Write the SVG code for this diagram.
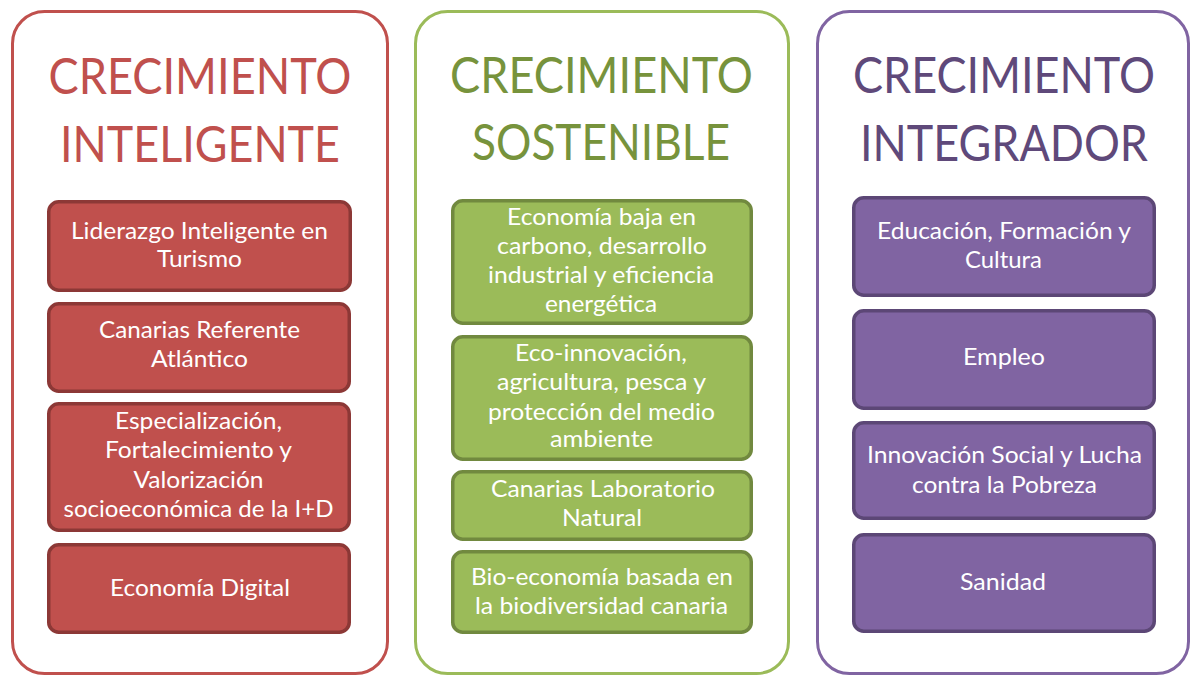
<svg xmlns="http://www.w3.org/2000/svg" width="1191" height="675" viewBox="0 0 1191 675">
<style>
.panel{fill:#FFFFFF;stroke-width:3}
.title{font-family:Lato,"Open Sans","Liberation Sans",sans-serif;font-size:50px;text-anchor:middle}
.box{stroke-width:3.5}
.lbl{font-family:Lato,"Open Sans","Liberation Sans",sans-serif;font-size:23px;fill:#FFFFFF;text-anchor:middle}
.red .panel{stroke:#C0504D}.red .title{fill:#C0504D}.red .box{fill:#C0504D;stroke:#8C3836}
.green .panel{stroke:#9BBB59}.green .title{fill:#77933C}.green .box{fill:#9BBB59;stroke:#71893F}
.purple .panel{stroke:#8064A2}.purple .title{fill:#5F497A}.purple .box{fill:#8064A2;stroke:#5C4776}
</style>
<rect width="1191" height="675" fill="#FFFFFF"/>
<g id="connectors"/>
<g id="panel-inteligente" class="red">
<rect class="panel" x="12.5" y="11.5" width="375" height="662" rx="32"/>
<text class="title" x="200" y="94" textLength="303" lengthAdjust="spacingAndGlyphs">CRECIMIENTO</text>
<text class="title" x="200" y="162" textLength="280" lengthAdjust="spacingAndGlyphs">INTELIGENTE</text>
<g id="node-liderazgo"><rect class="box" x="48.75" y="201.75" width="301.5" height="88.5" rx="10"/>
<text class="lbl" x="199.5" y="239" textLength="257" lengthAdjust="spacingAndGlyphs">Liderazgo Inteligente en</text>
<text class="lbl" x="199.5" y="267" textLength="85" lengthAdjust="spacingAndGlyphs">Turismo</text></g>
<g id="node-canarias-referente"><rect class="box" x="48.75" y="303.75" width="300.5" height="87.5" rx="10"/>
<text class="lbl" x="199.5" y="338" textLength="201" lengthAdjust="spacingAndGlyphs">Canarias Referente</text>
<text class="lbl" x="199.5" y="367" textLength="97" lengthAdjust="spacingAndGlyphs">Atlántico</text></g>
<g id="node-especializacion"><rect class="box" x="48.75" y="403.75" width="300.5" height="126.5" rx="10"/>
<text class="lbl" x="198.5" y="429" textLength="167" lengthAdjust="spacingAndGlyphs">Especialización,</text>
<text class="lbl" x="198.5" y="458" textLength="187" lengthAdjust="spacingAndGlyphs">Fortalecimiento y</text>
<text class="lbl" x="198.5" y="488" textLength="130" lengthAdjust="spacingAndGlyphs">Valorización</text>
<text class="lbl" x="198.5" y="517" textLength="270" lengthAdjust="spacingAndGlyphs">socioeconómica de la I+D</text></g>
<g id="node-economia-digital"><rect class="box" x="48.75" y="544.75" width="300.5" height="87.5" rx="10"/>
<text class="lbl" x="200" y="596" textLength="180" lengthAdjust="spacingAndGlyphs">Economía Digital</text></g>
</g>
<g id="panel-sostenible" class="green">
<rect class="panel" x="415.5" y="11.5" width="373" height="662" rx="32"/>
<text class="title" x="601.5" y="93" textLength="303" lengthAdjust="spacingAndGlyphs">CRECIMIENTO</text>
<text class="title" x="601" y="160" textLength="258" lengthAdjust="spacingAndGlyphs">SOSTENIBLE</text>
<g id="node-economia-baja"><rect class="box" x="452.75" y="200.75" width="298.5" height="122.5" rx="10"/>
<text class="lbl" x="601.5" y="225" textLength="189" lengthAdjust="spacingAndGlyphs">Economía baja en</text>
<text class="lbl" x="602" y="254" textLength="210" lengthAdjust="spacingAndGlyphs">carbono, desarrollo</text>
<text class="lbl" x="601" y="283" textLength="226" lengthAdjust="spacingAndGlyphs">industrial y eficiencia</text>
<text class="lbl" x="601" y="312" textLength="112" lengthAdjust="spacingAndGlyphs">energética</text></g>
<g id="node-eco-innovacion"><rect class="box" x="452.75" y="336.75" width="298.5" height="122.5" rx="10"/>
<text class="lbl" x="601" y="361" textLength="172" lengthAdjust="spacingAndGlyphs">Eco-innovación,</text>
<text class="lbl" x="601.5" y="390" textLength="209" lengthAdjust="spacingAndGlyphs">agricultura, pesca y</text>
<text class="lbl" x="601.5" y="420" textLength="227" lengthAdjust="spacingAndGlyphs">protección del medio</text>
<text class="lbl" x="601.5" y="447" textLength="103" lengthAdjust="spacingAndGlyphs">ambiente</text></g>
<g id="node-laboratorio"><rect class="box" x="452.75" y="471.75" width="298.5" height="67.5" rx="10"/>
<text class="lbl" x="603" y="497" textLength="224" lengthAdjust="spacingAndGlyphs">Canarias Laboratorio</text>
<text class="lbl" x="602" y="526" textLength="80" lengthAdjust="spacingAndGlyphs">Natural</text></g>
<g id="node-bio-economia"><rect class="box" x="452.75" y="551.75" width="298.5" height="80.5" rx="10"/>
<text class="lbl" x="602" y="585" textLength="262" lengthAdjust="spacingAndGlyphs">Bio-economía basada en</text>
<text class="lbl" x="601.5" y="614" textLength="253" lengthAdjust="spacingAndGlyphs">la biodiversidad canaria</text></g>
</g>
<g id="panel-integrador" class="purple">
<rect class="panel" x="817.5" y="11.5" width="371" height="662" rx="32"/>
<text class="title" x="1004" y="93" textLength="302" lengthAdjust="spacingAndGlyphs">CRECIMIENTO</text>
<text class="title" x="1004" y="161" textLength="288" lengthAdjust="spacingAndGlyphs">INTEGRADOR</text>
<g id="node-educacion"><rect class="box" x="853.75" y="197.75" width="300.5" height="97.5" rx="10"/>
<text class="lbl" x="1004" y="239" textLength="254" lengthAdjust="spacingAndGlyphs">Educación, Formación y</text>
<text class="lbl" x="1003.5" y="268" textLength="77" lengthAdjust="spacingAndGlyphs">Cultura</text></g>
<g id="node-empleo"><rect class="box" x="853.75" y="310.75" width="300.5" height="97.5" rx="10"/>
<text class="lbl" x="1004" y="365" textLength="82" lengthAdjust="spacingAndGlyphs">Empleo</text></g>
<g id="node-innovacion-social"><rect class="box" x="853.75" y="422.75" width="300.5" height="95.5" rx="10"/>
<text class="lbl" x="1004.5" y="463" textLength="275" lengthAdjust="spacingAndGlyphs">Innovación Social y Lucha</text>
<text class="lbl" x="1004.5" y="493" textLength="185" lengthAdjust="spacingAndGlyphs">contra la Pobreza</text></g>
<g id="node-sanidad"><rect class="box" x="853.75" y="534.75" width="300.5" height="96.5" rx="10"/>
<text class="lbl" x="1003" y="590" textLength="86" lengthAdjust="spacingAndGlyphs">Sanidad</text></g>
</g>
</svg>
